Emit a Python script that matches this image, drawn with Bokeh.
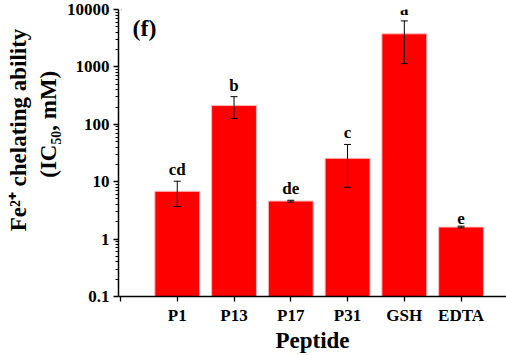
import math
from bokeh.plotting import figure
from bokeh.models import ColumnDataSource, FixedTicker, Whisker, TeeHead, Label
from bokeh.core.properties import value
from bokeh.embed import file_html
from bokeh.resources import INLINE

categories = ["P1", "P13", "P17", "P31", "GSH", "EDTA"]
values = [6.8, 212, 4.6, 25.5, 3770, 1.62]
err_low = [3.7, 126, 4.42, 8.0, 1140, 1.57]
err_high = [10.2, 303, 4.75, 44.6, 6330, 1.68]
letters = ["cd", "b", "de", "c", "a", "e"]
y_ticks = [0.1, 1, 10, 100, 1000, 10000]
y_tick_labels = ["0.1", "1", "10", "100", "1000", "10000"]

FONT = "Liberation Serif"
xs = list(range(1, len(categories) + 1))
src = ColumnDataSource(dict(x=xs, top=values, lower=err_low, upper=err_high, letter=letters))

p = figure(width=506, height=355, y_axis_type="log",
           x_range=(-0.035, 6.8), y_range=(0.1, 10000),
           output_backend="svg", toolbar_location=None,
           min_border_left=118, min_border_right=0, min_border_top=9, min_border_bottom=58)
p.outline_line_color = None
p.xgrid.visible = False
p.ygrid.visible = False
p.background_fill_color = "white"

p.vbar(x="x", top="top", bottom=0.1, width=0.79, source=src,
       fill_color="#ff0000", line_color="#ffb8b8", line_width=1)

wh = Whisker(base="x", upper="upper", lower="lower", source=src,
             line_color="black", line_width=1,
             upper_head=TeeHead(size=7, line_color="black", line_width=1),
             lower_head=TeeHead(size=7, line_color="black", line_width=1))
wh.level = "overlay"
p.add_layout(wh)

p.text(x="x", y="upper", text="letter", source=src, text_align="center",
       text_baseline="bottom", y_offset=-2, text_font=value(FONT),
       text_font_style="bold", text_font_size="17px", text_color="black")

# axes
p.xaxis.ticker = FixedTicker(ticks=[0] + xs)
ov = {0: ""}
for x, c in zip(xs, categories):
    ov[x] = c
p.xaxis.major_label_overrides = ov
p.yaxis.ticker = FixedTicker(ticks=y_ticks,
                             minor_ticks=[m * 10 ** e for e in range(-1, 4) for m in range(2, 10)])
p.yaxis.major_label_overrides = {t: l for t, l in zip(y_ticks, y_tick_labels)}

for ax in (p.xaxis[0], p.yaxis[0]):
    ax.axis_line_color = "black"
    ax.axis_line_width = 1.5
    ax.major_tick_line_color = "black"
    ax.major_tick_line_width = 1.3
    ax.minor_tick_line_color = "black"
    ax.major_tick_in = 0
    ax.major_tick_out = 5
    ax.minor_tick_in = 0
    ax.minor_tick_out = 3
    ax.major_label_text_font = FONT
    ax.major_label_text_font_style = "bold"
    ax.major_label_text_font_size = "17px"
    ax.major_label_text_color = "black"
    ax.axis_label_text_font = FONT
    ax.axis_label_text_font_style = "bold"
    ax.axis_label_text_font_size = "23px"
    ax.axis_label_text_color = "black"

p.xaxis.axis_label = "Peptide"
p.xaxis.axis_label_standoff = 0
p.xaxis.major_label_standoff = 4
p.yaxis.major_label_standoff = 4

p.yaxis.axis_label = ("\u00a0" * 8 + "Fe\u00b2\u207a chelating ability\n"
                      + "\u00a0" * 10 + "(IC\u2085\u2080, mM)")
p.yaxis.axis_label_standoff = 3

p.add_layout(Label(x=14, y=269, x_units="screen", y_units="screen", text="(f)",
                   text_font=FONT, text_font_style="bold", text_font_size="24px",
                   text_color="black", text_align="left", text_baseline="alphabetic"))
p.add_layout(Label(x=-20, y=292, x_units="screen", y_units="screen", text="m/z, Da",
                   text_font="Liberation Sans", text_font_size="13px",
                   text_color="#4472c4", text_align="left", text_baseline="alphabetic"))

open("out.html", "w").write(file_html(p, INLINE))
